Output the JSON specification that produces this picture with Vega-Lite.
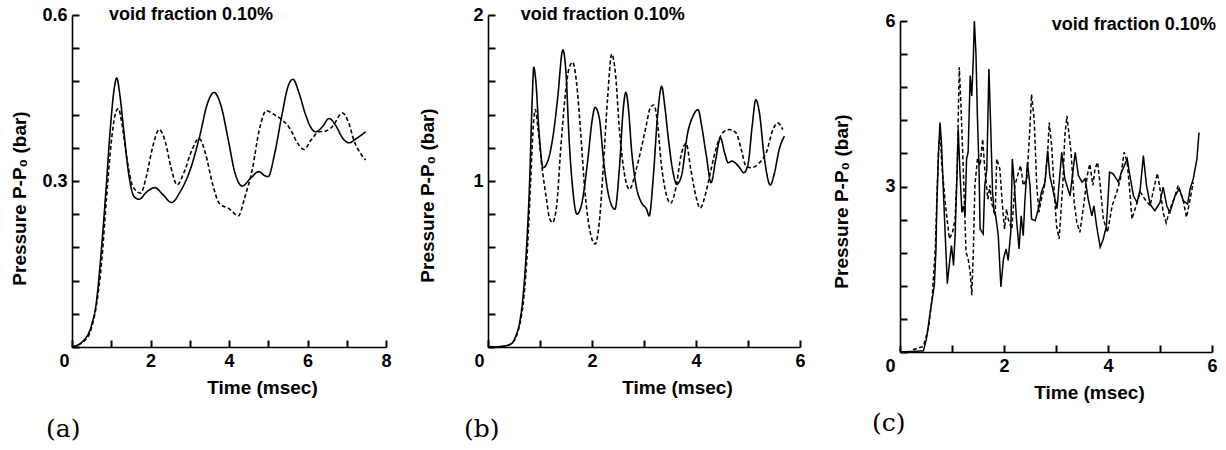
{
  "$schema": "https://vega.github.io/schema/vega-lite/v6.json",
  "background": "white",
  "padding": {"left": 10, "top": 6, "right": 0, "bottom": 0},
  "spacing": 26,
  "bounds": "full",
  "align": "each",
  "center": true,
  "config": {
    "view": {"stroke": null},
    "font": "Liberation Sans",
    "axis": {
      "domainColor": "black", "domainWidth": 1.6, "tickColor": "black", "tickWidth": 2, "tickOpacity": 1,
      "labelFont": "Liberation Sans", "labelFontSize": 18, "labelFontWeight": "bold", "labelColor": "black",
      "grid": false,
      "titleFont": "Liberation Sans", "titleFontSize": 19, "titleFontWeight": "bold", "titleColor": "black"
    },
    "title": {"font": "DejaVu Serif", "fontSize": 25, "fontWeight": "normal", "color": "black", "orient": "bottom", "anchor": "start", "frame": "group"}
  },
  "datasets": {
    "a": [
      {"t":0,"p":0,"run":"solid"},{"t":0.3,"p":0.012,"run":"solid"},{"t":0.5,"p":0.04,"run":"solid"},{"t":0.62,"p":0.08,"run":"solid"},{"t":0.73,"p":0.16,"run":"solid"},{"t":0.86,"p":0.278,"run":"solid"},{"t":0.98,"p":0.398,"run":"solid"},{"t":1.07,"p":0.464,"run":"solid"},{"t":1.14,"p":0.486,"run":"solid"},{"t":1.22,"p":0.455,"run":"solid"},{"t":1.32,"p":0.39,"run":"solid"},{"t":1.45,"p":0.31,"run":"solid"},{"t":1.58,"p":0.272,"run":"solid"},{"t":1.71,"p":0.267,"run":"solid"},{"t":1.9,"p":0.28,"run":"solid"},{"t":2.11,"p":0.288,"run":"solid"},{"t":2.32,"p":0.275,"run":"solid"},{"t":2.54,"p":0.261,"run":"solid"},{"t":2.75,"p":0.28,"run":"solid"},{"t":3.0,"p":0.318,"run":"solid"},{"t":3.25,"p":0.38,"run":"solid"},{"t":3.45,"p":0.44,"run":"solid"},{"t":3.62,"p":0.46,"run":"solid"},{"t":3.8,"p":0.435,"run":"solid"},{"t":3.98,"p":0.375,"run":"solid"},{"t":4.15,"p":0.315,"run":"solid"},{"t":4.34,"p":0.291,"run":"solid"},{"t":4.55,"p":0.305,"run":"solid"},{"t":4.76,"p":0.317,"run":"solid"},{"t":4.9,"p":0.31,"run":"solid"},{"t":5.0,"p":0.308,"run":"solid"},{"t":5.15,"p":0.345,"run":"solid"},{"t":5.35,"p":0.42,"run":"solid"},{"t":5.5,"p":0.47,"run":"solid"},{"t":5.63,"p":0.484,"run":"solid"},{"t":5.78,"p":0.46,"run":"solid"},{"t":5.95,"p":0.42,"run":"solid"},{"t":6.1,"p":0.395,"run":"solid"},{"t":6.21,"p":0.389,"run":"solid"},{"t":6.38,"p":0.398,"run":"solid"},{"t":6.55,"p":0.413,"run":"solid"},{"t":6.72,"p":0.4,"run":"solid"},{"t":6.9,"p":0.377,"run":"solid"},{"t":7.06,"p":0.369,"run":"solid"},{"t":7.25,"p":0.377,"run":"solid"},{"t":7.48,"p":0.389,"run":"solid"},
      {"t":0,"p":0,"run":"dashed"},{"t":0.3,"p":0.01,"run":"dashed"},{"t":0.5,"p":0.035,"run":"dashed"},{"t":0.62,"p":0.075,"run":"dashed"},{"t":0.75,"p":0.15,"run":"dashed"},{"t":0.88,"p":0.27,"run":"dashed"},{"t":1.0,"p":0.37,"run":"dashed"},{"t":1.1,"p":0.42,"run":"dashed"},{"t":1.18,"p":0.431,"run":"dashed"},{"t":1.28,"p":0.4,"run":"dashed"},{"t":1.4,"p":0.34,"run":"dashed"},{"t":1.55,"p":0.29,"run":"dashed"},{"t":1.75,"p":0.278,"run":"dashed"},{"t":1.9,"p":0.31,"run":"dashed"},{"t":2.05,"p":0.36,"run":"dashed"},{"t":2.22,"p":0.393,"run":"dashed"},{"t":2.38,"p":0.37,"run":"dashed"},{"t":2.52,"p":0.325,"run":"dashed"},{"t":2.68,"p":0.293,"run":"dashed"},{"t":2.85,"p":0.315,"run":"dashed"},{"t":3.05,"p":0.355,"run":"dashed"},{"t":3.24,"p":0.377,"run":"dashed"},{"t":3.4,"p":0.35,"run":"dashed"},{"t":3.58,"p":0.295,"run":"dashed"},{"t":3.75,"p":0.26,"run":"dashed"},{"t":4.0,"p":0.25,"run":"dashed"},{"t":4.24,"p":0.237,"run":"dashed"},{"t":4.4,"p":0.27,"run":"dashed"},{"t":4.59,"p":0.32,"run":"dashed"},{"t":4.78,"p":0.395,"run":"dashed"},{"t":4.95,"p":0.427,"run":"dashed"},{"t":5.15,"p":0.42,"run":"dashed"},{"t":5.36,"p":0.41,"run":"dashed"},{"t":5.55,"p":0.395,"run":"dashed"},{"t":5.75,"p":0.368,"run":"dashed"},{"t":5.91,"p":0.357,"run":"dashed"},{"t":6.1,"p":0.375,"run":"dashed"},{"t":6.29,"p":0.389,"run":"dashed"},{"t":6.45,"p":0.39,"run":"dashed"},{"t":6.63,"p":0.398,"run":"dashed"},{"t":6.89,"p":0.423,"run":"dashed"},{"t":7.05,"p":0.405,"run":"dashed"},{"t":7.18,"p":0.374,"run":"dashed"},{"t":7.35,"p":0.35,"run":"dashed"},{"t":7.48,"p":0.338,"run":"dashed"}
    ],
    "b": [
      {"t":0,"p":0,"run":"solid"},{"t":0.26,"p":0.003,"run":"solid"},{"t":0.45,"p":0.02,"run":"solid"},{"t":0.54,"p":0.07,"run":"solid"},{"t":0.61,"p":0.15,"run":"solid"},{"t":0.67,"p":0.29,"run":"solid"},{"t":0.74,"p":0.59,"run":"solid"},{"t":0.8,"p":0.99,"run":"solid"},{"t":0.85,"p":1.49,"run":"solid"},{"t":0.88,"p":1.685,"run":"solid"},{"t":0.92,"p":1.6,"run":"solid"},{"t":0.98,"p":1.3,"run":"solid"},{"t":1.06,"p":1.08,"run":"solid"},{"t":1.15,"p":1.12,"run":"solid"},{"t":1.26,"p":1.29,"run":"solid"},{"t":1.34,"p":1.5,"run":"solid"},{"t":1.44,"p":1.79,"run":"solid"},{"t":1.5,"p":1.65,"run":"solid"},{"t":1.56,"p":1.25,"run":"solid"},{"t":1.63,"p":0.95,"run":"solid"},{"t":1.71,"p":0.8,"run":"solid"},{"t":1.8,"p":0.86,"run":"solid"},{"t":1.92,"p":1.13,"run":"solid"},{"t":2.0,"p":1.36,"run":"solid"},{"t":2.06,"p":1.444,"run":"solid"},{"t":2.14,"p":1.38,"run":"solid"},{"t":2.23,"p":1.1,"run":"solid"},{"t":2.33,"p":0.9,"run":"solid"},{"t":2.44,"p":0.83,"run":"solid"},{"t":2.53,"p":1.09,"run":"solid"},{"t":2.6,"p":1.43,"run":"solid"},{"t":2.65,"p":1.534,"run":"solid"},{"t":2.7,"p":1.44,"run":"solid"},{"t":2.76,"p":1.19,"run":"solid"},{"t":2.85,"p":0.97,"run":"solid"},{"t":2.95,"p":0.87,"run":"solid"},{"t":3.05,"p":0.83,"run":"solid"},{"t":3.1,"p":0.79,"run":"solid"},{"t":3.18,"p":1.03,"run":"solid"},{"t":3.26,"p":1.39,"run":"solid"},{"t":3.34,"p":1.57,"run":"solid"},{"t":3.4,"p":1.45,"run":"solid"},{"t":3.47,"p":1.25,"run":"solid"},{"t":3.56,"p":1.05,"run":"solid"},{"t":3.63,"p":0.98,"run":"solid"},{"t":3.72,"p":1.03,"run":"solid"},{"t":3.84,"p":1.29,"run":"solid"},{"t":3.94,"p":1.39,"run":"solid"},{"t":4.04,"p":1.43,"run":"solid"},{"t":4.11,"p":1.33,"run":"solid"},{"t":4.2,"p":1.15,"run":"solid"},{"t":4.29,"p":0.99,"run":"solid"},{"t":4.38,"p":1.13,"run":"solid"},{"t":4.47,"p":1.26,"run":"solid"},{"t":4.55,"p":1.17,"run":"solid"},{"t":4.62,"p":1.11,"run":"solid"},{"t":4.69,"p":1.12,"run":"solid"},{"t":4.75,"p":1.11,"run":"solid"},{"t":4.84,"p":1.08,"run":"solid"},{"t":4.92,"p":1.05,"run":"solid"},{"t":5.0,"p":1.1,"run":"solid"},{"t":5.08,"p":1.33,"run":"solid"},{"t":5.15,"p":1.49,"run":"solid"},{"t":5.22,"p":1.41,"run":"solid"},{"t":5.31,"p":1.15,"run":"solid"},{"t":5.43,"p":0.976,"run":"solid"},{"t":5.51,"p":1.05,"run":"solid"},{"t":5.6,"p":1.19,"run":"solid"},{"t":5.7,"p":1.27,"run":"solid"},
      {"t":0,"p":0,"run":"dashed"},{"t":0.3,"p":0.004,"run":"dashed"},{"t":0.45,"p":0.02,"run":"dashed"},{"t":0.55,"p":0.07,"run":"dashed"},{"t":0.62,"p":0.15,"run":"dashed"},{"t":0.69,"p":0.3,"run":"dashed"},{"t":0.76,"p":0.6,"run":"dashed"},{"t":0.82,"p":1.0,"run":"dashed"},{"t":0.87,"p":1.33,"run":"dashed"},{"t":0.91,"p":1.43,"run":"dashed"},{"t":0.96,"p":1.32,"run":"dashed"},{"t":1.04,"p":1.08,"run":"dashed"},{"t":1.12,"p":0.9,"run":"dashed"},{"t":1.18,"p":0.78,"run":"dashed"},{"t":1.24,"p":0.75,"run":"dashed"},{"t":1.32,"p":0.85,"run":"dashed"},{"t":1.4,"p":1.2,"run":"dashed"},{"t":1.48,"p":1.5,"run":"dashed"},{"t":1.56,"p":1.68,"run":"dashed"},{"t":1.63,"p":1.715,"run":"dashed"},{"t":1.7,"p":1.6,"run":"dashed"},{"t":1.78,"p":1.3,"run":"dashed"},{"t":1.86,"p":0.95,"run":"dashed"},{"t":1.96,"p":0.7,"run":"dashed"},{"t":2.06,"p":0.62,"run":"dashed"},{"t":2.14,"p":0.75,"run":"dashed"},{"t":2.22,"p":1.1,"run":"dashed"},{"t":2.3,"p":1.5,"run":"dashed"},{"t":2.38,"p":1.765,"run":"dashed"},{"t":2.45,"p":1.65,"run":"dashed"},{"t":2.53,"p":1.3,"run":"dashed"},{"t":2.62,"p":1.05,"run":"dashed"},{"t":2.72,"p":0.95,"run":"dashed"},{"t":2.85,"p":1.07,"run":"dashed"},{"t":2.95,"p":1.2,"run":"dashed"},{"t":3.04,"p":1.33,"run":"dashed"},{"t":3.12,"p":1.44,"run":"dashed"},{"t":3.19,"p":1.458,"run":"dashed"},{"t":3.26,"p":1.35,"run":"dashed"},{"t":3.33,"p":1.11,"run":"dashed"},{"t":3.42,"p":0.93,"run":"dashed"},{"t":3.51,"p":0.866,"run":"dashed"},{"t":3.62,"p":0.97,"run":"dashed"},{"t":3.71,"p":1.15,"run":"dashed"},{"t":3.81,"p":1.227,"run":"dashed"},{"t":3.9,"p":1.07,"run":"dashed"},{"t":3.99,"p":0.92,"run":"dashed"},{"t":4.08,"p":0.837,"run":"dashed"},{"t":4.19,"p":0.93,"run":"dashed"},{"t":4.29,"p":1.07,"run":"dashed"},{"t":4.4,"p":1.21,"run":"dashed"},{"t":4.51,"p":1.29,"run":"dashed"},{"t":4.64,"p":1.31,"run":"dashed"},{"t":4.77,"p":1.29,"run":"dashed"},{"t":4.87,"p":1.19,"run":"dashed"},{"t":4.96,"p":1.09,"run":"dashed"},{"t":5.06,"p":1.08,"run":"dashed"},{"t":5.22,"p":1.11,"run":"dashed"},{"t":5.35,"p":1.17,"run":"dashed"},{"t":5.48,"p":1.31,"run":"dashed"},{"t":5.57,"p":1.35,"run":"dashed"},{"t":5.67,"p":1.31,"run":"dashed"}
    ],
    "c": [
      {"t":0,"p":0,"run":"solid"},{"t":0.45,"p":0.02,"run":"solid"},{"t":0.51,"p":0.24,"run":"solid"},{"t":0.58,"p":0.72,"run":"solid"},{"t":0.62,"p":0.96,"run":"solid"},{"t":0.66,"p":1.21,"run":"solid"},{"t":0.69,"p":1.81,"run":"solid"},{"t":0.71,"p":2.71,"run":"solid"},{"t":0.74,"p":3.62,"run":"solid"},{"t":0.77,"p":4.16,"run":"solid"},{"t":0.8,"p":3.74,"run":"solid"},{"t":0.83,"p":3.02,"run":"solid"},{"t":0.87,"p":2.11,"run":"solid"},{"t":0.91,"p":1.24,"run":"solid"},{"t":0.96,"p":1.69,"run":"solid"},{"t":0.99,"p":1.93,"run":"solid"},{"t":1.03,"p":1.57,"run":"solid"},{"t":1.06,"p":2.11,"run":"solid"},{"t":1.09,"p":3.02,"run":"solid"},{"t":1.12,"p":4.04,"run":"solid"},{"t":1.15,"p":3.32,"run":"solid"},{"t":1.19,"p":2.53,"run":"solid"},{"t":1.22,"p":2.65,"run":"solid"},{"t":1.25,"p":2.47,"run":"solid"},{"t":1.28,"p":3.5,"run":"solid"},{"t":1.31,"p":3.62,"run":"solid"},{"t":1.35,"p":5.01,"run":"solid"},{"t":1.38,"p":4.64,"run":"solid"},{"t":1.41,"p":5.31,"run":"solid"},{"t":1.43,"p":6.0,"run":"solid"},{"t":1.46,"p":5.43,"run":"solid"},{"t":1.49,"p":4.22,"run":"solid"},{"t":1.52,"p":3.32,"run":"solid"},{"t":1.54,"p":2.23,"run":"solid"},{"t":1.6,"p":2.14,"run":"solid"},{"t":1.63,"p":3.02,"run":"solid"},{"t":1.67,"p":3.32,"run":"solid"},{"t":1.71,"p":5.13,"run":"solid"},{"t":1.74,"p":4.22,"run":"solid"},{"t":1.78,"p":2.9,"run":"solid"},{"t":1.81,"p":2.53,"run":"solid"},{"t":1.84,"p":2.47,"run":"solid"},{"t":1.89,"p":2.11,"run":"solid"},{"t":1.94,"p":1.18,"run":"solid"},{"t":1.99,"p":1.69,"run":"solid"},{"t":2.04,"p":1.87,"run":"solid"},{"t":2.08,"p":1.66,"run":"solid"},{"t":2.13,"p":2.17,"run":"solid"},{"t":2.16,"p":3.5,"run":"solid"},{"t":2.2,"p":3.02,"run":"solid"},{"t":2.24,"p":2.41,"run":"solid"},{"t":2.29,"p":1.87,"run":"solid"},{"t":2.33,"p":2.47,"run":"solid"},{"t":2.37,"p":2.11,"run":"solid"},{"t":2.4,"p":2.71,"run":"solid"},{"t":2.45,"p":3.44,"run":"solid"},{"t":2.5,"p":3.02,"run":"solid"},{"t":2.53,"p":2.41,"run":"solid"},{"t":2.6,"p":2.38,"run":"solid"},{"t":2.66,"p":2.59,"run":"solid"},{"t":2.72,"p":2.9,"run":"solid"},{"t":2.79,"p":3.08,"run":"solid"},{"t":2.84,"p":3.65,"run":"solid"},{"t":2.88,"p":3.2,"run":"solid"},{"t":2.95,"p":2.9,"run":"solid"},{"t":3.02,"p":2.6,"run":"solid"},{"t":3.11,"p":3.62,"run":"solid"},{"t":3.17,"p":3.14,"run":"solid"},{"t":3.27,"p":2.83,"run":"solid"},{"t":3.37,"p":3.62,"run":"solid"},{"t":3.43,"p":3.2,"run":"solid"},{"t":3.5,"p":3.08,"run":"solid"},{"t":3.56,"p":3.14,"run":"solid"},{"t":3.62,"p":2.77,"run":"solid"},{"t":3.69,"p":2.47,"run":"solid"},{"t":3.73,"p":2.65,"run":"solid"},{"t":3.78,"p":2.29,"run":"solid"},{"t":3.85,"p":1.9,"run":"solid"},{"t":3.91,"p":2.05,"run":"solid"},{"t":3.97,"p":2.29,"run":"solid"},{"t":4.03,"p":3.26,"run":"solid"},{"t":4.1,"p":3.23,"run":"solid"},{"t":4.2,"p":3.08,"run":"solid"},{"t":4.26,"p":3.26,"run":"solid"},{"t":4.37,"p":3.5,"run":"solid"},{"t":4.42,"p":3.2,"run":"solid"},{"t":4.49,"p":2.83,"run":"solid"},{"t":4.56,"p":2.71,"run":"solid"},{"t":4.62,"p":2.96,"run":"solid"},{"t":4.68,"p":3.56,"run":"solid"},{"t":4.74,"p":3.02,"run":"solid"},{"t":4.81,"p":2.68,"run":"solid"},{"t":4.9,"p":2.56,"run":"solid"},{"t":5.0,"p":2.71,"run":"solid"},{"t":5.06,"p":2.99,"run":"solid"},{"t":5.13,"p":2.65,"run":"solid"},{"t":5.19,"p":2.53,"run":"solid"},{"t":5.29,"p":2.83,"run":"solid"},{"t":5.37,"p":2.96,"run":"solid"},{"t":5.45,"p":2.74,"run":"solid"},{"t":5.53,"p":2.68,"run":"solid"},{"t":5.58,"p":2.96,"run":"solid"},{"t":5.64,"p":3.14,"run":"solid"},{"t":5.71,"p":3.5,"run":"solid"},{"t":5.75,"p":3.98,"run":"solid"},
      {"t":0.25,"p":0.04,"run":"dashed"},{"t":0.45,"p":0.1,"run":"dashed"},{"t":0.55,"p":0.45,"run":"dashed"},{"t":0.62,"p":1.0,"run":"dashed"},{"t":0.68,"p":1.9,"run":"dashed"},{"t":0.72,"p":3.1,"run":"dashed"},{"t":0.75,"p":3.8,"run":"dashed"},{"t":0.78,"p":3.9,"run":"dashed"},{"t":0.8,"p":3.44,"run":"dashed"},{"t":0.87,"p":2.71,"run":"dashed"},{"t":0.92,"p":2.29,"run":"dashed"},{"t":0.95,"p":2.05,"run":"dashed"},{"t":1.01,"p":2.17,"run":"dashed"},{"t":1.06,"p":2.41,"run":"dashed"},{"t":1.1,"p":3.32,"run":"dashed"},{"t":1.14,"p":5.16,"run":"dashed"},{"t":1.17,"p":4.52,"run":"dashed"},{"t":1.21,"p":3.5,"run":"dashed"},{"t":1.24,"p":2.65,"run":"dashed"},{"t":1.27,"p":1.81,"run":"dashed"},{"t":1.31,"p":1.69,"run":"dashed"},{"t":1.35,"p":1.45,"run":"dashed"},{"t":1.38,"p":1.03,"run":"dashed"},{"t":1.41,"p":1.81,"run":"dashed"},{"t":1.44,"p":3.02,"run":"dashed"},{"t":1.49,"p":3.5,"run":"dashed"},{"t":1.54,"p":3.38,"run":"dashed"},{"t":1.59,"p":3.86,"run":"dashed"},{"t":1.63,"p":3.32,"run":"dashed"},{"t":1.69,"p":2.77,"run":"dashed"},{"t":1.73,"p":3.02,"run":"dashed"},{"t":1.76,"p":2.71,"run":"dashed"},{"t":1.83,"p":2.47,"run":"dashed"},{"t":1.86,"p":3.5,"run":"dashed"},{"t":1.92,"p":3.32,"run":"dashed"},{"t":1.97,"p":2.65,"run":"dashed"},{"t":2.01,"p":2.23,"run":"dashed"},{"t":2.05,"p":2.59,"run":"dashed"},{"t":2.08,"p":2.41,"run":"dashed"},{"t":2.15,"p":2.23,"run":"dashed"},{"t":2.21,"p":3.02,"run":"dashed"},{"t":2.28,"p":3.26,"run":"dashed"},{"t":2.32,"p":3.38,"run":"dashed"},{"t":2.37,"p":3.02,"run":"dashed"},{"t":2.44,"p":3.14,"run":"dashed"},{"t":2.49,"p":3.92,"run":"dashed"},{"t":2.53,"p":4.67,"run":"dashed"},{"t":2.58,"p":4.22,"run":"dashed"},{"t":2.63,"p":3.02,"run":"dashed"},{"t":2.67,"p":2.53,"run":"dashed"},{"t":2.72,"p":2.77,"run":"dashed"},{"t":2.78,"p":3.02,"run":"dashed"},{"t":2.84,"p":3.62,"run":"dashed"},{"t":2.87,"p":4.16,"run":"dashed"},{"t":2.92,"p":3.7,"run":"dashed"},{"t":2.96,"p":3.0,"run":"dashed"},{"t":3.01,"p":2.29,"run":"dashed"},{"t":3.06,"p":2.05,"run":"dashed"},{"t":3.13,"p":3.02,"run":"dashed"},{"t":3.17,"p":3.92,"run":"dashed"},{"t":3.21,"p":4.28,"run":"dashed"},{"t":3.29,"p":3.62,"run":"dashed"},{"t":3.35,"p":2.71,"run":"dashed"},{"t":3.4,"p":2.35,"run":"dashed"},{"t":3.46,"p":2.17,"run":"dashed"},{"t":3.54,"p":2.71,"run":"dashed"},{"t":3.6,"p":3.2,"run":"dashed"},{"t":3.65,"p":3.41,"run":"dashed"},{"t":3.71,"p":3.02,"run":"dashed"},{"t":3.75,"p":3.32,"run":"dashed"},{"t":3.8,"p":3.44,"run":"dashed"},{"t":3.85,"p":3.02,"run":"dashed"},{"t":3.91,"p":2.41,"run":"dashed"},{"t":3.99,"p":2.17,"run":"dashed"},{"t":4.08,"p":2.65,"run":"dashed"},{"t":4.17,"p":2.9,"run":"dashed"},{"t":4.24,"p":3.14,"run":"dashed"},{"t":4.31,"p":3.62,"run":"dashed"},{"t":4.37,"p":3.44,"run":"dashed"},{"t":4.42,"p":2.9,"run":"dashed"},{"t":4.46,"p":2.41,"run":"dashed"},{"t":4.54,"p":2.65,"run":"dashed"},{"t":4.62,"p":2.9,"run":"dashed"},{"t":4.71,"p":2.77,"run":"dashed"},{"t":4.81,"p":2.65,"run":"dashed"},{"t":4.88,"p":2.96,"run":"dashed"},{"t":4.95,"p":3.24,"run":"dashed"},{"t":5.01,"p":2.9,"run":"dashed"},{"t":5.06,"p":2.53,"run":"dashed"},{"t":5.12,"p":2.34,"run":"dashed"},{"t":5.19,"p":2.59,"run":"dashed"},{"t":5.29,"p":2.83,"run":"dashed"},{"t":5.35,"p":3.02,"run":"dashed"},{"t":5.44,"p":2.77,"run":"dashed"},{"t":5.51,"p":2.44,"run":"dashed"},{"t":5.58,"p":2.77,"run":"dashed"},{"t":5.64,"p":3.08,"run":"dashed"}
    ]
  },
  "hconcat": [
    {
      "width": 314, "height": 332,
      "title": {"text": "(a)", "dx": -26, "offset": 20},
      "layer": [
        {
          "data": {"name": "a"},
          "mark": {"type": "line", "interpolate": "monotone", "color": "black", "strokeWidth": 1.6},
          "encoding": {
            "x": {"field": "t", "type": "quantitative", "scale": {"domain": [0, 8], "nice": false, "zero": false},
              "axis": {"title": "Time (msec)", "values": [0,1,2,3,4,5,6,7,8], "tickCount": 20, "format": "d", "labelExpr": "datum.value % 2 === 0 ? datum.label : ''", "labelOffset": {"condition": {"test": "datum.value === 0", "value": -8}, "value": 0}, "ticks": true, "tickSize": -7, "labelPadding": 12, "labelOverlap": false, "labelFlush": false, "titlePadding": 8, "titleX": 190}},
            "y": {"field": "p", "type": "quantitative", "scale": {"domain": [0, 0.6], "nice": false},
              "axis": {"title": "Pressure  P-P₀ (bar)", "values": [0,0.06,0.12,0.18,0.24,0.3,0.36,0.42,0.48,0.54,0.6], "tickCount": 20, "labelExpr": "abs(datum.value - 0.3) < 0.001 ? '0.3' : abs(datum.value - 0.6) < 0.001 ? '0.6' : ''", "ticks": true, "tickSize": -7, "labelPadding": 12, "labelOverlap": false, "labelFlush": false, "titlePadding": 12, "titleY": 183}},
            "strokeDash": {"field": "run", "type": "nominal", "scale": {"domain": ["solid", "dashed"], "range": [[1, 0], [4, 2.5]]}, "legend": null}
          }
        },
        {
          "data": {"values": [{"label": "void fraction 0.10%"}]},
          "mark": {"type": "text", "align": "left", "baseline": "middle", "font": "Liberation Sans", "fontSize": 18, "fontWeight": "bold", "color": "black"},
          "encoding": {"x": {"datum": 0.94}, "y": {"datum": 0.6}, "text": {"field": "label"}}
        }
      ]
    },
    {
      "width": 312, "height": 332,
      "title": {"text": "(b)", "dx": -24, "offset": 20},
      "layer": [
        {
          "data": {"name": "b"},
          "mark": {"type": "line", "interpolate": "monotone", "color": "black", "strokeWidth": 1.6},
          "encoding": {
            "x": {"field": "t", "type": "quantitative", "scale": {"domain": [0, 6], "nice": false, "zero": false},
              "axis": {"title": "Time (msec)", "values": [0,1,2,3,4,5,6], "tickCount": 20, "format": "d", "labelExpr": "datum.value % 2 === 0 ? datum.label : ''", "labelOffset": {"condition": {"test": "datum.value === 0", "value": -9}, "value": 0}, "ticks": true, "tickSize": -7, "labelPadding": 12, "labelOverlap": false, "labelFlush": false, "titlePadding": 8, "titleX": 189}},
            "y": {"field": "p", "type": "quantitative", "scale": {"domain": [0, 2], "nice": false},
              "axis": {"title": "Pressure  P-P₀ (bar)", "values": [0,0.2,0.4,0.6,0.8,1,1.2,1.4,1.6,1.8,2], "tickCount": 20, "labelExpr": "abs(datum.value - 1) < 0.001 ? '1' : abs(datum.value - 2) < 0.001 ? '2' : ''", "ticks": true, "tickSize": -7, "labelPadding": 12, "labelOverlap": false, "labelFlush": false, "titlePadding": 35, "titleY": 180}},
            "strokeDash": {"field": "run", "type": "nominal", "scale": {"domain": ["solid", "dashed"], "range": [[1, 0], [4, 2.5]]}, "legend": null}
          }
        },
        {
          "data": {"values": [{"label": "void fraction 0.10%"}]},
          "mark": {"type": "text", "align": "left", "baseline": "middle", "font": "Liberation Sans", "fontSize": 18, "fontWeight": "bold", "color": "black"},
          "encoding": {"x": {"datum": 0.63}, "y": {"datum": 2}, "text": {"field": "label"}}
        }
      ]
    },
    {
      "width": 312, "height": 331,
      "title": {"text": "(c)", "dx": -28, "offset": 9},
      "layer": [
        {
          "data": {"name": "c"},
          "mark": {"type": "line", "interpolate": "linear", "color": "black", "strokeWidth": 1.5},
          "encoding": {
            "x": {"field": "t", "type": "quantitative", "scale": {"domain": [0, 6], "nice": false, "zero": false},
              "axis": {"title": "Time (msec)", "values": [0,1,2,3,4,5,6], "tickCount": 20, "format": "d", "labelExpr": "datum.value % 2 === 0 ? datum.label : ''", "labelOffset": {"condition": {"test": "datum.value === 0", "value": -10}, "value": 0}, "ticks": true, "tickSize": -7, "labelPadding": 12, "labelOverlap": false, "labelFlush": false, "titlePadding": 8, "titleX": 189}},
            "y": {"field": "p", "type": "quantitative", "scale": {"domain": [0, 6], "nice": false},
              "axis": {"title": "Pressure  P-P₀ (bar)", "values": [0,0.6,1.2,1.8,2.4,3,3.6,4.2,4.8,5.4,6], "tickCount": 20, "labelExpr": "abs(datum.value - 3) < 0.001 ? '3' : abs(datum.value - 6) < 0.001 ? '6' : ''", "ticks": true, "tickSize": -7, "labelPadding": 12, "labelOverlap": false, "labelFlush": false, "titlePadding": 33, "titleY": 180}},
            "strokeDash": {"field": "run", "type": "nominal", "scale": {"domain": ["solid", "dashed"], "range": [[1, 0], [4, 2.5]]}, "legend": null}
          }
        },
        {
          "data": {"values": [{"label": "void fraction 0.10%"}]},
          "mark": {"type": "text", "align": "left", "baseline": "middle", "font": "Liberation Sans", "fontSize": 18, "fontWeight": "bold", "color": "black"},
          "encoding": {"x": {"datum": 2.92}, "y": {"datum": 5.92}, "text": {"field": "label"}}
        }
      ]
    }
  ]
}
